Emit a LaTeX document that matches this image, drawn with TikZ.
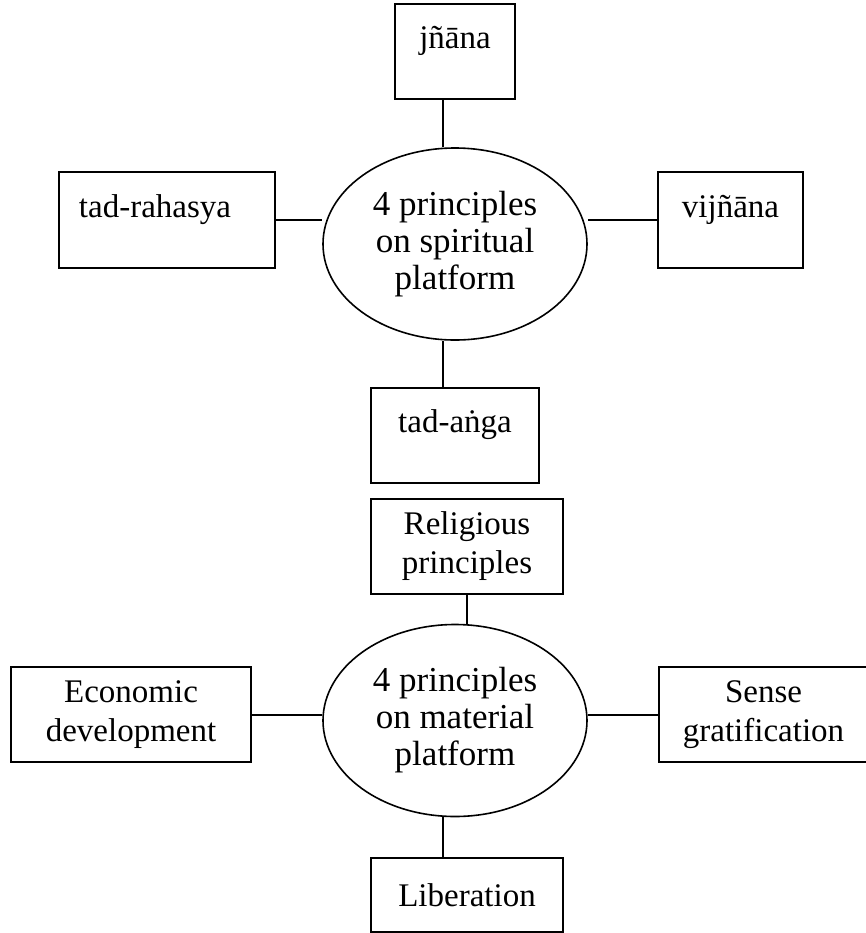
\documentclass[tikz,border=0pt]{standalone}
\usepackage{fontspec}
\setmainfont{Liberation Serif}
\usetikzlibrary{shapes.geometric}
\begin{document}
\begin{tikzpicture}[x=0.5pt,y=-0.5pt,
  box/.style={draw=black,line width=1pt,rectangle,inner sep=0pt,align=center,font=\fontsize{16.5}{19.5}\selectfont},
  oval/.style={draw=black,line width=0.8pt,ellipse,inner sep=0pt,minimum width=132pt,minimum height=96pt,align=center,font=\fontsize{17.5}{18.5}\selectfont},
  link/.style={draw=black,line width=1pt}]
\useasboundingbox (0,0) rectangle (866,933);
\node [oval] (spirit) at (455,244) {4 principles\\on spiritual\\platform};
\node [box,minimum width=60pt,minimum height=47.5pt] (jnana) at (455,51.5) {jñāna\\[-5.5pt]~};
\node [box,minimum width=108pt,minimum height=48pt] (rahasya) at (167,220) {tad-rahasya\hspace*{12pt}\\[-5.5pt]~};
\node [box,minimum width=72.5pt,minimum height=48pt] (vijnana) at (730.5,220) {vijñāna\\[-5.5pt]~};
\node [box,minimum width=84pt,minimum height=47.5pt] (anga) at (455,435.5) {tad-aṅga\\[-5.5pt]~};
\node [oval] (material) at (455,720.5) {4 principles\\on material\\platform};
\node [box,minimum width=96pt,minimum height=47.5pt] (relig) at (467,546.5) {Religious\\principles};
\node [box,minimum width=120pt,minimum height=47.5pt] (econ) at (131,714.5) {Economic\\development};
\node [box,minimum width=104.5pt,minimum height=47.5pt] (sense) at (763.5,714.5) {Sense\\gratification};
\node [box,minimum width=96pt,minimum height=37pt] (lib) at (467,895) {Liberation};
\draw [link] ([xshift=-6pt]jnana.south) -- ([xshift=-6pt]spirit.north);
\draw [link] (rahasya.east) -- (rahasya.east -| spirit.west);
\draw [link] (vijnana.west) -- (vijnana.west -| spirit.east);
\draw [link] ([xshift=-6pt]spirit.south) -- ([xshift=-6pt]anga.north);
\draw [link] (relig.south) -- (relig.south |- material.north);
\draw [link] (econ.east) -- (econ.east -| material.west);
\draw [link] (sense.west) -- (sense.west -| material.east);
\draw [link] ([xshift=-6pt]material.south) -- ([xshift=-6pt]material.south |- lib.north);
\end{tikzpicture}
\end{document}
